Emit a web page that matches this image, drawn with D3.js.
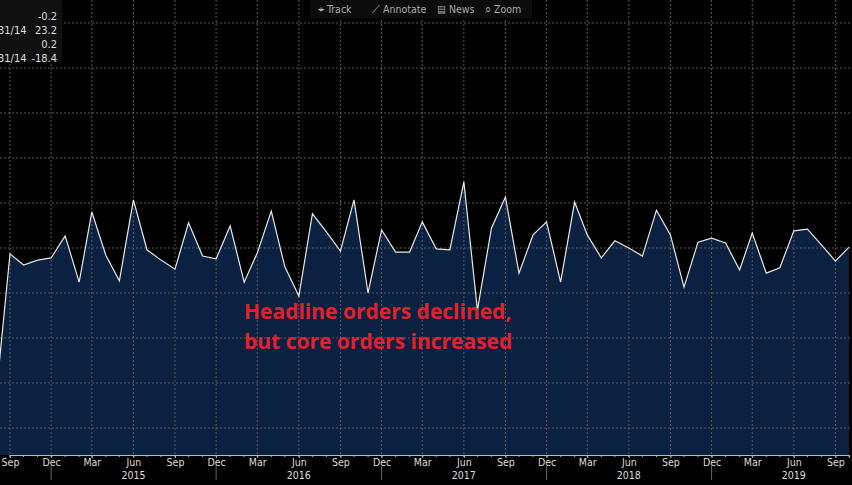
<!DOCTYPE html>
<html>
<head>
<meta charset="utf-8">
<script src="https://cdn.jsdelivr.net/npm/d3@7"></script>
<style>
  body { margin: 0; background: #000; }
  svg { display: block; }
</style>
</head>
<body>
<svg id="chart" width="852" height="485"></svg>
<script>
// monthly values, Aug 2014 .. Oct 2019
const startMonth = "2014-08";
const values = [
  -2.30, 0.87, 0.62, 0.73, 0.78, 1.27, 0.24, 1.80, 0.84, 0.27, 2.07, 0.96,
  0.73, 0.53, 1.56, 0.82, 0.76, 1.49, 0.24, 0.89, 1.82, 0.58, -0.07, 1.76,
  1.36, 0.93, 2.07, 0.00, 1.40, 0.91, 0.91, 1.58, 0.98, 0.96, 2.47, -0.38,
  1.44, 2.13, 0.44, 1.29, 1.58, 0.24, 2.02, 1.29, 0.78, 1.16, 1.00, 0.82,
  1.84, 1.29, 0.13, 1.13, 1.22, 1.11, 0.51, 1.33, 0.44, 0.56, 1.38, 1.42,
  1.07, 0.71, 1.02
];
const gridValues = [-3, -2, -1, 0, 1, 2, 3, 4, 5, 6];
const monthNames = ["Jan","Feb","Mar","Apr","May","Jun","Jul","Aug","Sep","Oct","Nov","Dec"];
const years = [2015, 2016, 2017, 2018, 2019];
const legendRows = [["", "-0.2"], ["31/14", "23.2"], ["", "0.2"], ["31/14", "-18.4"]];
const toolbar = ["⌖ Track", "⟋ Annotate", "▤ News", "⌕ Zoom"];

const svg = d3.select("#chart");
const W = 852, bottom = 455;
const parse = d3.timeParse("%Y-%m");
const t0 = parse(startMonth);
const data = values.map((v, i) => ({ date: d3.timeMonth.offset(t0, i), v }));

const x = d3.scaleTime()
  .domain([parse("2014-09"), parse("2019-10")])
  .range([10, 849]);
const y = d3.scaleLinear().domain([-3.6, 6.51]).range([bottom, 0]);

// area
svg.append("path").datum(data)
  .attr("fill", "#0b2142")
  .attr("d", d3.area().x(d => x(d.date)).y0(bottom).y1(d => y(d.v)));

// grid (on top of the fill)
const quarters = d3.timeMonth.range(parse("2014-09"), parse("2019-11"), 3);
svg.append("g").selectAll("line").data(quarters).join("line")
  .attr("x1", d => x(d)).attr("x2", d => x(d))
  .attr("y1", 0).attr("y2", bottom)
  .attr("stroke", "#5a5a5a").attr("stroke-dasharray", "2,2");
svg.append("g").selectAll("line").data(gridValues).join("line")
  .attr("x1", 0).attr("x2", W)
  .attr("y1", d => y(d)).attr("y2", d => y(d))
  .attr("stroke", "#5a5a5a").attr("stroke-dasharray", "2,2");

// line
svg.append("path").datum(data)
  .attr("fill", "none").attr("stroke", "#e8e8e8").attr("stroke-width", 1.2)
  .attr("d", d3.line().x(d => x(d.date)).y(d => y(d.v)));

// x axis
const axisFont = "'Liberation Sans Narrow', 'DejaVu Sans Condensed', sans-serif";
const ax = svg.append("g").attr("transform", `translate(0,${bottom})`)
  .call(d3.axisBottom(x).tickValues(quarters).tickSize(3)
    .tickFormat(d => monthNames[d.getMonth()]));
ax.select(".domain").attr("stroke", "#bbb");
ax.selectAll("line").attr("stroke", "#bbb");
ax.selectAll("text").attr("fill", "#ddd").attr("font-size", 10.5)
  .attr("font-family", axisFont).attr("dy", "0.5em");
const monthTicks = d3.timeMonth.range(parse("2014-08"), parse("2019-11"));
svg.append("g").selectAll("line").data(monthTicks).join("line")
  .attr("x1", d => x(d)).attr("x2", d => x(d))
  .attr("y1", bottom).attr("y2", bottom + 2).attr("stroke", "#bbb");
// year separators & labels
const decs = quarters.filter(d => d.getMonth() === 11);
svg.append("g").selectAll("line").data(decs).join("line")
  .attr("x1", d => x(d)).attr("x2", d => x(d))
  .attr("y1", 466).attr("y2", 480).attr("stroke", "#666");
svg.append("g").selectAll("text").data(years).join("text")
  .attr("x", d => x(new Date(d, 5, 1)))
  .attr("y", 479).attr("text-anchor", "middle")
  .attr("fill", "#ddd").attr("font-size", 10.5).attr("font-family", axisFont)
  .text(d => d);

// legend box (left part cut off by the frame, as in the source)
svg.append("rect").attr("x", 0).attr("y", 0).attr("width", 62).attr("height", 62)
  .attr("fill", "#101010");
legendRows.forEach((r, i) => {
  svg.append("text").attr("x", -2).attr("y", 20 + i * 14)
    .attr("fill", "#ddd").attr("font-size", 11).attr("font-family", axisFont).text(r[0]);
  svg.append("text").attr("x", 57).attr("y", 20 + i * 14).attr("text-anchor", "end")
    .attr("fill", "#ddd").attr("font-size", 11).attr("font-family", axisFont).text(r[1]);
});

// toolbar
svg.append("rect").attr("x", 310).attr("y", 0).attr("width", 222).attr("height", 18)
  .attr("fill", "#0c0c0c");
const tbx = [318, 372, 437, 485];
toolbar.forEach((s, i) => {
  svg.append("text").attr("x", tbx[i]).attr("y", 13)
    .attr("fill", "#aaa").attr("font-size", 10.5).attr("font-family", axisFont).text(s);
});

// annotation
const note = svg.append("text").attr("fill", "#e3202b").attr("font-size", 21)
  .attr("font-weight", "bold").attr("font-family", "'Open Sans', sans-serif");
note.append("tspan").attr("x", 244).attr("y", 319).text("Headline orders declined,");
note.append("tspan").attr("x", 244).attr("y", 349).text("but core orders increased");
</script>
</body>
</html>
